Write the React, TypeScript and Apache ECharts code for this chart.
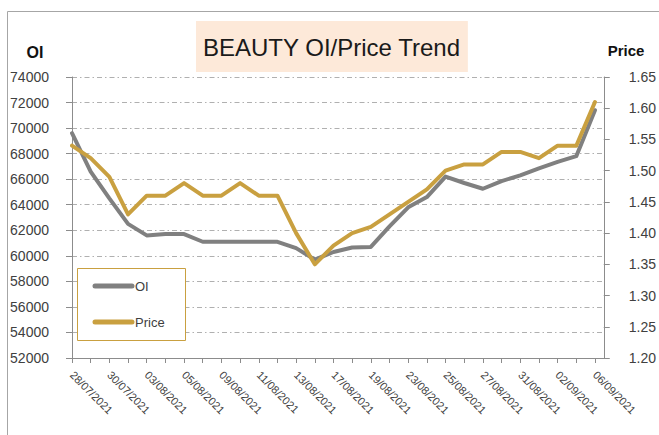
import React, { useEffect, useRef } from "react";
import * as echarts from "echarts";

const dates = [
  "28/07/2021", "29/07/2021", "30/07/2021", "02/08/2021", "03/08/2021", "04/08/2021",
  "05/08/2021", "06/08/2021", "09/08/2021", "10/08/2021", "11/08/2021", "12/08/2021",
  "13/08/2021", "16/08/2021", "17/08/2021", "18/08/2021", "19/08/2021", "20/08/2021",
  "23/08/2021", "24/08/2021", "25/08/2021", "26/08/2021", "27/08/2021", "30/08/2021",
  "31/08/2021", "01/09/2021", "02/09/2021", "03/09/2021", "06/09/2021",
];

const oiValues = [
  69600, 66600, 64500, 62500, 61600, 61700, 61700, 61100, 61100, 61100, 61100, 61100,
  60600, 59700, 60300, 60650, 60700, 62300, 63800, 64600, 66200, 65700, 65250, 65850,
  66300, 66850, 67350, 67800, 71400,
];

const priceValues = [
  1.54, 1.52, 1.49, 1.43, 1.46, 1.46, 1.48, 1.46, 1.46, 1.48, 1.46, 1.46,
  1.40, 1.35, 1.38, 1.40, 1.41, 1.43, 1.45, 1.47, 1.50, 1.51, 1.51, 1.53,
  1.53, 1.52, 1.54, 1.54, 1.61,
];

const seriesNames = ["OI", "Price"];

const FONT = "'Liberation Sans', Arial, sans-serif";
const GRAY = "#808080";
const GOLD = "#c9a040";
const AXIS = "#8c8c8c";
const TXT = "#404040";

export default function App() {
  const ref = useRef<HTMLDivElement>(null);
  useEffect(() => {
    if (!ref.current) return;
    const chart = echarts.init(ref.current, null, { renderer: "svg" });
    const tickIdx = dates.map((_, i) => i);
    const labelIdx = dates.map((_, i) => i).filter((i) => i % 2 === 0);
    const colors = [GRAY, GOLD];
    const legendItems = seriesNames.flatMap((name, k) => {
      const cy = 286 + k * 36;
      return [
        {
          type: "line",
          shape: { x1: 95, y1: cy, x2: 132, y2: cy },
          style: { stroke: colors[k], lineWidth: 5, lineCap: "round" },
          silent: true,
          z: 12,
        },
        {
          type: "text",
          x: 135,
          y: cy,
          style: { text: name, font: `13px ${FONT}`, fill: TXT, align: "left", verticalAlign: "middle" },
          silent: true,
          z: 12,
        },
      ];
    });
    chart.setOption({
      animation: false,
      backgroundColor: "#ffffff",
      textStyle: { fontFamily: FONT },
      title: {
        text: "BEAUTY OI/Price Trend",
        left: 196,
        top: 21,
        padding: [14, 7, 13, 7],
        backgroundColor: "#fde9d9",
        textStyle: { fontFamily: FONT, fontSize: 24, fontWeight: "normal", color: "#1a1a1a" },
      },
      grid: { left: 72, right: 50, top: 77, bottom: 77 },
      xAxis: {
        type: "value",
        min: 0,
        max: 28.47,
        interval: 1,
        splitLine: { show: false },
        axisLine: { show: true, lineStyle: { color: AXIS, width: 1 } },
        axisTick: { show: true, length: 5, customValues: tickIdx, lineStyle: { color: AXIS } },
        axisLabel: {
          customValues: labelIdx,
          rotate: -45,
          margin: 15,
          fontSize: 11,
          color: TXT,
          fontFamily: FONT,
          formatter: (v: number) => dates[Math.round(v)] ?? "",
        },
      },
      yAxis: [
        {
          type: "value",
          min: 52000,
          max: 74000,
          interval: 2000,
          axisLine: { show: true, lineStyle: { color: AXIS, width: 1 } },
          axisTick: { show: true, length: 6, lineStyle: { color: AXIS } },
          axisLabel: {
            margin: 23,
            fontSize: 14,
            color: TXT,
            fontFamily: FONT,
            formatter: (v: number) => String(v),
          },
          splitLine: { show: true, lineStyle: { color: "#b0b0b0", width: 1, type: [5, 3, 1.5, 3] } },
        },
        {
          type: "value",
          min: 1.2,
          max: 1.65,
          interval: 0.05,
          position: "right",
          axisLine: { show: true, lineStyle: { color: AXIS, width: 1 } },
          axisTick: { show: true, length: 6, lineStyle: { color: AXIS } },
          axisLabel: {
            margin: 25,
            fontSize: 14,
            color: TXT,
            fontFamily: FONT,
            formatter: (v: number) => v.toFixed(2),
          },
          splitLine: { show: false },
        },
      ],
      graphic: [
        {
          type: "rect",
          shape: { x: 7.5, y: 11.5, width: 800, height: 600 },
          style: { fill: "none", stroke: "#a6a6a6", lineWidth: 1 },
          silent: true,
          z: -1,
        },
        {
          type: "text",
          x: 35,
          y: 52,
          style: { text: "OI", font: `bold 16px ${FONT}`, fill: "#111", align: "center", verticalAlign: "middle" },
        },
        {
          type: "text",
          x: 626,
          y: 50,
          style: { text: "Price", font: `bold 15px ${FONT}`, fill: "#111", align: "center", verticalAlign: "middle" },
        },
        {
          type: "rect",
          shape: { x: 77.5, y: 268.5, width: 108, height: 72 },
          style: { fill: "#ffffff", stroke: GOLD, lineWidth: 1 },
          silent: true,
          z: 10,
        },
        ...legendItems,
      ],
      series: [
        {
          name: seriesNames[0],
          type: "line",
          yAxisIndex: 0,
          symbol: "none",
          data: oiValues.map((v, i) => [i, v]),
          lineStyle: { color: GRAY, width: 4, join: "round", cap: "round" },
          itemStyle: { color: GRAY },
        },
        {
          name: seriesNames[1],
          type: "line",
          yAxisIndex: 1,
          symbol: "none",
          data: priceValues.map((v, i) => [i, v]),
          lineStyle: { color: GOLD, width: 4, join: "round", cap: "round" },
          itemStyle: { color: GOLD },
        },
      ],
    });
    return () => chart.dispose();
  }, []);
  return (
    <div
      ref={ref}
      style={{ position: "fixed", left: 0, top: 0, width: 659, height: 435 }}
    />
  );
}
